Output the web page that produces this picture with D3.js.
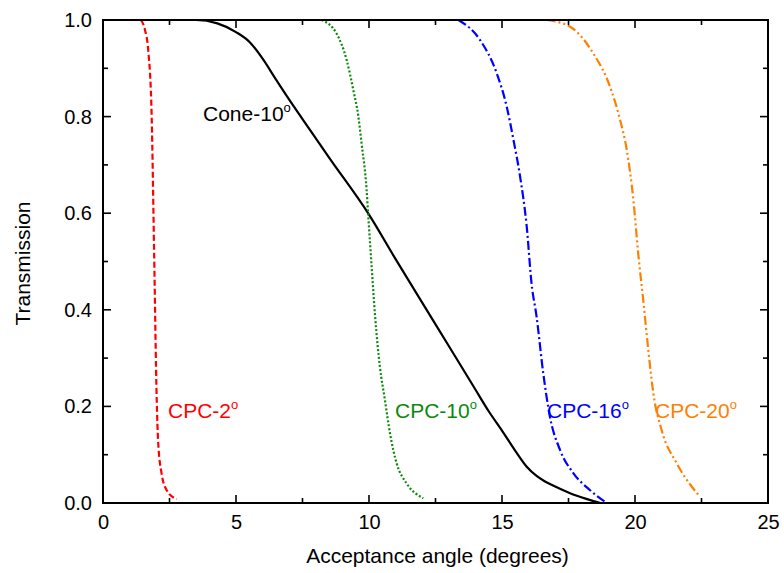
<!DOCTYPE html>
<html>
<head>
<meta charset="utf-8">
<script src="https://cdn.jsdelivr.net/npm/d3@7/dist/d3.min.js"></script>
<style>
  html, body { margin: 0; padding: 0; background: #fff; }
  svg { display: block; font-family: Arial, "Liberation Sans", sans-serif; }
</style>
</head>
<body>
<svg id="chart" width="784" height="573"></svg>
<script>
// Transmission vs acceptance angle for a cone and four CPC concentrators
const coneAngle = [0, 3.5, 4.3, 5.0, 5.5, 6.0, 6.5, 7.0, 7.5, 8.5, 10.0, 11.0, 12.0, 13.0, 14.0, 14.5, 15.0, 15.5, 15.93, 16.3, 16.6, 17.0, 17.56, 18.2, 18.7];
const coneT     = [1.0, 1.0, 0.993, 0.975, 0.955, 0.92, 0.877, 0.835, 0.795, 0.715, 0.597, 0.505, 0.415, 0.325, 0.235, 0.19, 0.15, 0.108, 0.075, 0.056, 0.045, 0.034, 0.02, 0.008, 0.0];

const cpc2Angle = [1.43, 1.58, 1.70, 1.83, 1.92, 2.02, 2.07, 2.2, 2.39, 2.77];
const cpc2T     = [1.0, 0.979, 0.938, 0.80, 0.524, 0.213, 0.13, 0.062, 0.027, 0.008];

const cpc10Angle = [8.22, 8.78, 9.16, 9.41, 9.6, 9.72, 9.91, 9.97, 10.1, 10.23, 10.41, 10.6, 10.79, 11.04, 11.41, 12.04];
const cpc10T     = [1.0, 0.972, 0.917, 0.855, 0.8, 0.745, 0.648, 0.596, 0.489, 0.386, 0.282, 0.213, 0.144, 0.082, 0.041, 0.01];

const cpc16Angle = [13.36, 14.17, 14.8, 15.18, 15.43, 15.68, 15.93, 16.11, 16.3, 16.55, 16.8, 17.18, 17.68, 18.3, 18.94];
const cpc16T     = [1.0, 0.959, 0.89, 0.82, 0.752, 0.676, 0.572, 0.455, 0.386, 0.269, 0.179, 0.11, 0.062, 0.027, 0.0];

const cpc20Angle = [16.68, 17.56, 18.43, 19.06, 19.44, 19.69, 19.94, 20.12, 20.31, 20.5, 20.69, 21.0, 21.57, 22.44];
const cpc20T     = [1.0, 0.986, 0.931, 0.862, 0.793, 0.731, 0.627, 0.517, 0.42, 0.317, 0.227, 0.151, 0.082, 0.013];

const xTicks = [0, 5, 10, 15, 20, 25];
const yTicks = [0.0, 0.2, 0.4, 0.6, 0.8, 1.0];

const seriesList = [
  { name: "Cone-10", angle: coneAngle, t: coneT, color: "#000000", dash: null, lx: 203, ly: 121 },
  { name: "CPC-2", angle: cpc2Angle, t: cpc2T, color: "#ff0000", dash: "6,3", lx: 168, ly: 418 },
  { name: "CPC-10", angle: cpc10Angle, t: cpc10T, color: "#0a8a0a", dash: "2,2", lx: 395, ly: 418 },
  { name: "CPC-16", angle: cpc16Angle, t: cpc16T, color: "#0000ff", dash: "9,3,2,3", lx: 547, ly: 418 },
  { name: "CPC-20", angle: cpc20Angle, t: cpc20T, color: "#ff8000", dash: "9,3,2,3,2,3", lx: 655, ly: 418 }
];

const svg = d3.select("#chart");
const plotL = 103, plotR = 768, plotT = 20, plotB = 503;

const x = d3.scaleLinear().domain([0, 25]).range([plotL, plotR]);
const y = d3.scaleLinear().domain([0, 1]).range([plotB, plotT]);

const minorX = d3.range(0, 25.01, 2.5);
const minorY = d3.range(0, 1.001, 0.1);

// Curves
const line = d3.line()
  .x(d => x(d[0]))
  .y(d => y(d[1]))
  .curve(d3.curveMonotoneX);

seriesList.forEach(s => {
  const pts = s.angle.map((a, i) => [a, s.t[i]]);
  svg.append("path")
    .attr("d", line(pts))
    .attr("fill", "none")
    .attr("stroke", s.color)
    .attr("stroke-width", 2.2)
    .attr("stroke-dasharray", s.dash);
});

// Frame
svg.append("rect")
  .attr("x", plotL).attr("y", plotT)
  .attr("width", plotR - plotL).attr("height", plotB - plotT)
  .attr("fill", "none").attr("stroke", "#000").attr("stroke-width", 2);

// Ticks on all four sides, pointing inward
const tickG = svg.append("g").attr("stroke", "#000").attr("stroke-width", 1.6);
minorX.forEach(v => {
  const major = Math.abs(v % 5) < 1e-6;
  const len = major ? 8 : 5;
  tickG.append("line").attr("x1", x(v)).attr("x2", x(v)).attr("y1", plotB).attr("y2", plotB - len);
  tickG.append("line").attr("x1", x(v)).attr("x2", x(v)).attr("y1", plotT).attr("y2", plotT + len);
});
minorY.forEach(v => {
  const major = Math.round(v * 10) % 2 === 0;
  const len = major ? 8 : 5;
  tickG.append("line").attr("x1", plotL).attr("x2", plotL + len).attr("y1", y(v)).attr("y2", y(v));
  tickG.append("line").attr("x1", plotR).attr("x2", plotR - len).attr("y1", y(v)).attr("y2", y(v));
});

// Axes (labels only; tick marks drawn above)
const xAxis = d3.axisBottom(x).tickValues(xTicks).tickSize(0).tickPadding(12).tickFormat(d3.format("d"));
const gx = svg.append("g").attr("transform", `translate(0,${plotB})`).call(xAxis);
gx.select(".domain").remove();
gx.selectAll("text").attr("font-size", 20).attr("font-family", "Arial, 'Liberation Sans', sans-serif").attr("fill", "#000");

const yAxis = d3.axisLeft(y).tickValues(yTicks).tickSize(0).tickPadding(11).tickFormat(d3.format(".1f"));
const gy = svg.append("g").attr("transform", `translate(${plotL},0)`).call(yAxis);
gy.select(".domain").remove();
gy.selectAll("text").attr("font-size", 20).attr("font-family", "Arial, 'Liberation Sans', sans-serif").attr("fill", "#000");

// Axis titles
svg.append("text")
  .attr("x", (plotL + plotR) / 2 + 2).attr("y", 563)
  .attr("text-anchor", "middle").attr("font-size", 21).attr("fill", "#000")
  .text("Acceptance angle (degrees)");

svg.append("text")
  .attr("transform", `translate(30,${(plotT + plotB) / 2 + 2}) rotate(-90)`)
  .attr("text-anchor", "middle").attr("font-size", 21).attr("fill", "#000")
  .text("Transmission");

// Curve labels with degree superscript
seriesList.forEach(s => {
  const t = svg.append("text")
    .attr("x", s.lx).attr("y", s.ly)
    .attr("font-size", 21).attr("fill", s.color);
  t.append("tspan").text(s.name);
  t.append("tspan").attr("font-size", 13).attr("dy", -9).text("o");
});
</script>
</body>
</html>
